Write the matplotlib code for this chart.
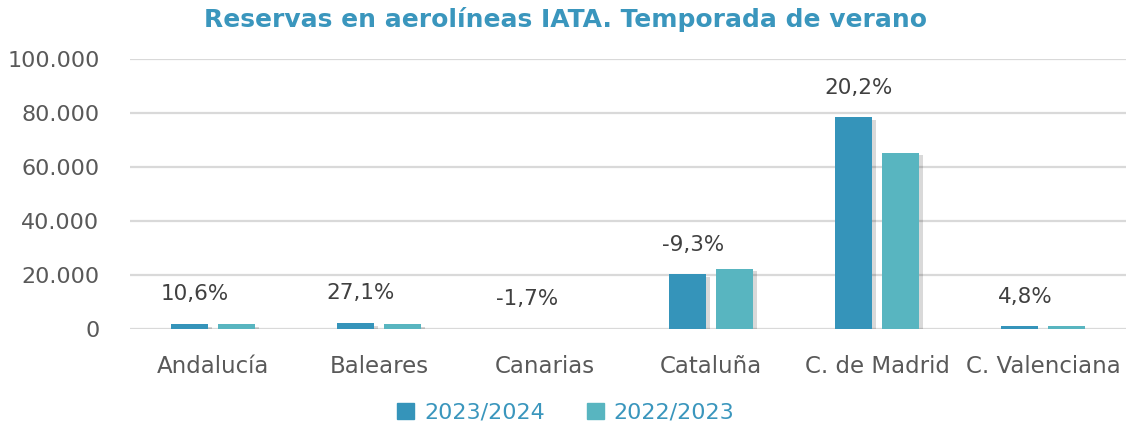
import numpy as np
import matplotlib
matplotlib.use("Agg")
import matplotlib.pyplot as plt
import matplotlib.patheffects as pe
from matplotlib.patches import Patch
from matplotlib.ticker import FuncFormatter

regiones = ["Andalucía", "Baleares", "Canarias", "Cataluña", "C. de Madrid", "C. Valenciana"]
reservas_2324 = [1900, 2300, 150, 20300, 78500, 1100]
reservas_2223 = [1720, 1810, 153, 22380, 65300, 1050]
variacion = ["10,6%", "27,1%", "-1,7%", "-9,3%", "20,2%", "4,8%"]

c_new = "#3594BA"
c_old = "#58B5C0"
gris = "#595959"
titulo_col = "#3A96BD"

plt.rcParams['font.family'] = ['DejaVu Sans']

fig = plt.figure(figsize=(11.32, 4.29), dpi=100)
ax = fig.add_axes([130/1132, 1-329/429, 996/1132, 270/429])

x = np.arange(len(regiones))
w = 0.223
off = 0.1416
shadow = [pe.SimplePatchShadow(offset=(3, -2), shadow_rgbFace="#000000", alpha=0.15), pe.Normal()]
b1 = ax.bar(x - off, reservas_2324, w, color=c_new, zorder=3)
b2 = ax.bar(x + off, reservas_2223, w, color=c_old, zorder=3)
for b in list(b1) + list(b2):
    b.set_path_effects(shadow)

for i, txt in enumerate(variacion):
    ax.annotate(txt, (x[i] - off, reservas_2324[i]), xytext=(4, 14), textcoords="offset points",
                ha="center", va="bottom", fontsize=15.5, color="#404040")

ax.set_xlim(-0.5, len(regiones) - 0.5)
ax.set_ylim(0, 100000)
ax.set_yticks(np.arange(0, 100001, 20000))
ax.yaxis.set_major_formatter(FuncFormatter(lambda v, p: f"{int(v):,}".replace(",", ".")))
ax.set_xticks(x)
ax.set_xticklabels(regiones)
ax.tick_params(axis="y", length=0, labelsize=16, labelcolor=gris, pad=22)
ax.tick_params(axis="x", length=0, labelsize=16.5, labelcolor=gris, pad=19)
ax.grid(axis="y", color="#D9D9D9", linewidth=1.6, zorder=0)
for s in ax.spines.values():
    s.set_visible(False)

fig.text(566/1132, 1-20/429, "Reservas en aerolíneas IATA. Temporada de verano", ha="center", va="center",
         fontsize=18, fontweight="bold", color=titulo_col)

handles = [Patch(color=c_new, label="2023/2024"), Patch(color=c_old, label="2022/2023")]
leg = fig.legend(handles=handles, loc="center", bbox_to_anchor=(0.5, 1-413/429), ncol=2, frameon=False,
                 fontsize=16, handlelength=0.75, handleheight=0.75, handletextpad=0.45, columnspacing=1.9)
for t in leg.get_texts():
    t.set_color(titulo_col)

fig.savefig("out.png", dpi=100)
